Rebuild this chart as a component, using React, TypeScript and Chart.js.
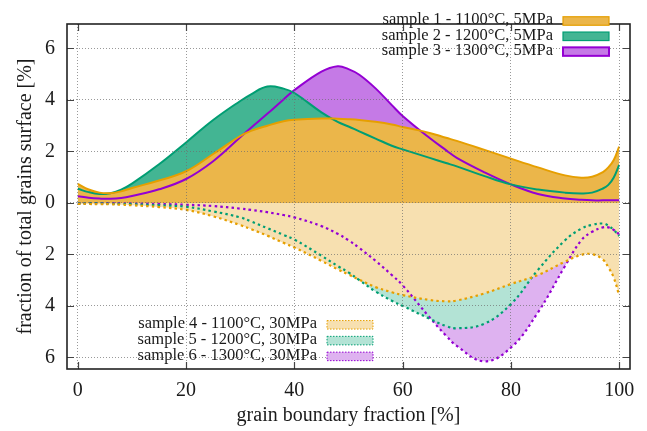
import React, { useEffect, useRef } from "react";
import { Chart, registerables } from "chart.js";

Chart.register(...registerables);

// ---------- data ----------
const xValues = [0, 2, 4, 6, 8, 10, 15, 20, 25, 30, 32, 35, 38, 40, 45, 48, 50, 52, 55, 58, 60, 65, 68, 70, 75, 80, 85, 90, 93, 95, 97, 98, 99, 100];

const sample1 = [0.74, 0.52, 0.4, 0.38, 0.45, 0.58, 0.87, 1.23, 1.9, 2.6, 2.8, 3.0, 3.17, 3.23, 3.28, 3.27, 3.25, 3.22, 3.15, 3.05, 2.95, 2.72, 2.53, 2.41, 2.07, 1.72, 1.38, 1.07, 0.98, 1.02, 1.2, 1.38, 1.67, 2.19];
const sample2 = [0.55, 0.42, 0.35, 0.38, 0.52, 0.75, 1.5, 2.35, 3.22, 3.96, 4.22, 4.52, 4.44, 4.27, 3.52, 3.15, 2.97, 2.78, 2.5, 2.22, 2.08, 1.75, 1.55, 1.42, 1.05, 0.72, 0.52, 0.4, 0.37, 0.4, 0.56, 0.7, 0.99, 1.48];
const sample3 = [0.26, 0.2, 0.17, 0.16, 0.19, 0.27, 0.53, 0.93, 1.62, 2.55, 2.92, 3.46, 4.02, 4.38, 5.1, 5.31, 5.2, 4.98, 4.45, 3.8, 3.38, 2.52, 2.05, 1.75, 1.2, 0.72, 0.35, 0.17, 0.12, 0.1, 0.1, 0.1, 0.1, 0.1];
const sample4 = [-0.04, -0.04, -0.05, -0.05, -0.07, -0.09, -0.16, -0.27, -0.52, -0.86, -1.02, -1.27, -1.55, -1.73, -2.25, -2.58, -2.78, -2.98, -3.27, -3.47, -3.58, -3.77, -3.82, -3.79, -3.52, -3.15, -2.8, -2.28, -2.02, -1.99, -2.2, -2.5, -2.9, -3.6];
const sample5 = [-0.02, -0.02, -0.02, -0.03, -0.04, -0.05, -0.09, -0.15, -0.33, -0.56, -0.72, -0.98, -1.24, -1.42, -2.05, -2.45, -2.7, -3.0, -3.44, -3.8, -4.0, -4.5, -4.78, -4.87, -4.7, -3.93, -2.6, -1.45, -1.0, -0.85, -0.8, -0.88, -1.05, -1.28];
const sample6 = [-0.01, -0.01, -0.01, -0.01, -0.01, -0.02, -0.04, -0.07, -0.12, -0.22, -0.27, -0.36, -0.47, -0.56, -0.9, -1.2, -1.45, -1.75, -2.25, -2.8, -3.2, -4.45, -5.15, -5.55, -6.15, -5.62, -4.25, -2.45, -1.45, -1.12, -0.95, -0.95, -1.05, -1.22];

const seriesLabels = [
  "sample 1 - 1100°C, 5MPa",
  "sample 2 - 1200°C, 5MPa",
  "sample 3 - 1300°C, 5MPa",
  "sample 4 - 1100°C, 30MPa",
  "sample 5 - 1200°C, 30MPa",
  "sample 6 - 1300°C, 30MPa",
];

const xTicks = [0, 20, 40, 60, 80, 100];
const yTicks = [-6, -4, -2, 0, 2, 4, 6];
const xTitle = "grain boundary fraction [%]";
const yTitle = "fraction of total grains surface [%]";

// ---------- styles ----------
const lineColors = ["#E69F00", "#009E73", "#9400D3", "#E69F00", "#009E73", "#9400D3"];
const fillColors = ["#EBB64A", "#43B593", "#C57AE6", "#F7E0B0", "#B3E3D5", "#DEB2F0"];
const SERIF = '"Liberation Serif", "Times New Roman", serif';

const framePlugin = {
  id: "gpFrame",
  afterDraw(chart: any) {
    const { ctx, chartArea: a, scales } = chart;
    ctx.save();
    ctx.strokeStyle = "#444";
    ctx.lineWidth = 1.2;
    const tl = 7;
    ctx.beginPath();
    for (const v of xTicks) {
      const px = Math.round(scales.x.getPixelForValue(v)) + 0.5;
      ctx.moveTo(px, a.bottom);
      ctx.lineTo(px, a.bottom - tl);
      ctx.moveTo(px, a.top);
      ctx.lineTo(px, a.top + tl);
    }
    for (const v of yTicks) {
      const py = Math.round(scales.y.getPixelForValue(v)) + 0.5;
      ctx.moveTo(a.left, py);
      ctx.lineTo(a.left + tl, py);
      ctx.moveTo(a.right, py);
      ctx.lineTo(a.right - tl, py);
    }
    ctx.stroke();
    ctx.strokeStyle = "#222";
    ctx.lineWidth = 1.6;
    ctx.strokeRect(a.left, a.top, a.right - a.left, a.bottom - a.top);
    ctx.restore();
  },
};

const legendPlugin = {
  id: "gpLegend",
  afterDraw(chart: any) {
    const { ctx } = chart;
    const ds = chart.data.datasets;
    ctx.save();
    ctx.font = `16.5px ${SERIF}`;
    ctx.textAlign = "right";
    ctx.textBaseline = "middle";
    const groups = [
      { idx: [0, 1, 2], textRight: 553, boxLeft: 563, firstY: 21, step: 15.3, dashed: false },
      { idx: [3, 4, 5], textRight: 317, boxLeft: 327, firstY: 324.8, step: 15.8, dashed: true },
    ];
    for (const g of groups) {
      g.idx.forEach((di, k) => {
        const d = ds[di];
        const cy = g.firstY + k * g.step;
        ctx.fillStyle = "#1a1a1a";
        ctx.fillText(d.label, g.textRight, cy - 1);
        const bw = 46, bh = 8.5;
        ctx.fillStyle = d.backgroundColor;
        ctx.fillRect(g.boxLeft, cy - bh / 2, bw, bh);
        ctx.strokeStyle = d.borderColor;
        if (g.dashed) {
          ctx.lineWidth = 1;
          ctx.setLineDash([1.5, 1.5]);
        } else {
          ctx.lineWidth = di === 2 ? 2 : 1.2;
          ctx.setLineDash([]);
        }
        ctx.strokeRect(g.boxLeft, cy - bh / 2, bw, bh);
      });
    }
    ctx.restore();
  },
};

export default function App() {
  const ref = useRef<HTMLCanvasElement>(null);

  useEffect(() => {
    const all = [sample1, sample2, sample3, sample4, sample5, sample6];
    const datasets = all.map((s, i) => ({
      label: seriesLabels[i],
      data: xValues.map((x, j) => ({ x, y: s[j] })),
      borderColor: lineColors[i],
      backgroundColor: fillColors[i],
      borderWidth: i < 3 ? 2 : 2.2,
      borderDash: i < 3 ? [] : [2.5, 3.2],
      pointRadius: 0,
      fill: "origin",
      tension: 0.4,
    }));

    const chart = new Chart(ref.current!, {
      type: "line",
      data: { datasets },
      plugins: [framePlugin, legendPlugin],
      options: {
        animation: false,
        responsive: false,
        devicePixelRatio: 1,
        layout: { padding: { top: 7, right: 17, left: 0, bottom: 0 } },
        plugins: {
          legend: { display: false },
          tooltip: { enabled: false },
          filler: { drawTime: "beforeDatasetsDraw" },
        },
        scales: {
          x: {
            type: "linear",
            min: -2,
            max: 102,
            afterBuildTicks: (scale: any) => {
              scale.ticks = xTicks.map((v) => ({ value: v }));
            },
            afterFit: (scale: any) => {
              scale.height = 62;
            },
            ticks: {
              color: "#1a1a1a",
              font: { family: SERIF, size: 20 },
              padding: 10,
              maxRotation: 0,
            },
            grid: {
              color: "rgba(110,110,110,0.7)",
              lineWidth: 1,
              drawTicks: false,
              z: 1,
            },
            border: { display: false, dash: [1, 2] },
            title: {
              display: true,
              text: xTitle,
              color: "#1a1a1a",
              font: { family: SERIF, size: 20 },
              padding: { top: 0, bottom: 3 },
            },
          },
          y: {
            type: "linear",
            min: -6.45,
            max: 6.95,
            afterBuildTicks: (scale: any) => {
              scale.ticks = yTicks.map((v) => ({ value: v }));
            },
            afterFit: (scale: any) => {
              scale.width = 67;
            },
            ticks: {
              color: "#1a1a1a",
              font: { family: SERIF, size: 20 },
              padding: 12,
              callback: (v: any) => String(Math.abs(Number(v))),
            },
            grid: {
              color: "rgba(110,110,110,0.7)",
              lineWidth: 1,
              drawTicks: false,
              z: 1,
            },
            border: { display: false, dash: [1, 2] },
            title: {
              display: true,
              text: yTitle,
              color: "#1a1a1a",
              font: { family: SERIF, size: 20 },
              padding: { top: 14, bottom: 0 },
            },
          },
        },
      } as any,
    });
    return () => chart.destroy();
  }, []);

  return (
    <div style={{ position: "fixed", left: 0, top: 0, width: 647, height: 431, background: "#fff" }}>
      <canvas ref={ref} width={647} height={431} style={{ display: "block", width: 647, height: 431 }} />
    </div>
  );
}
